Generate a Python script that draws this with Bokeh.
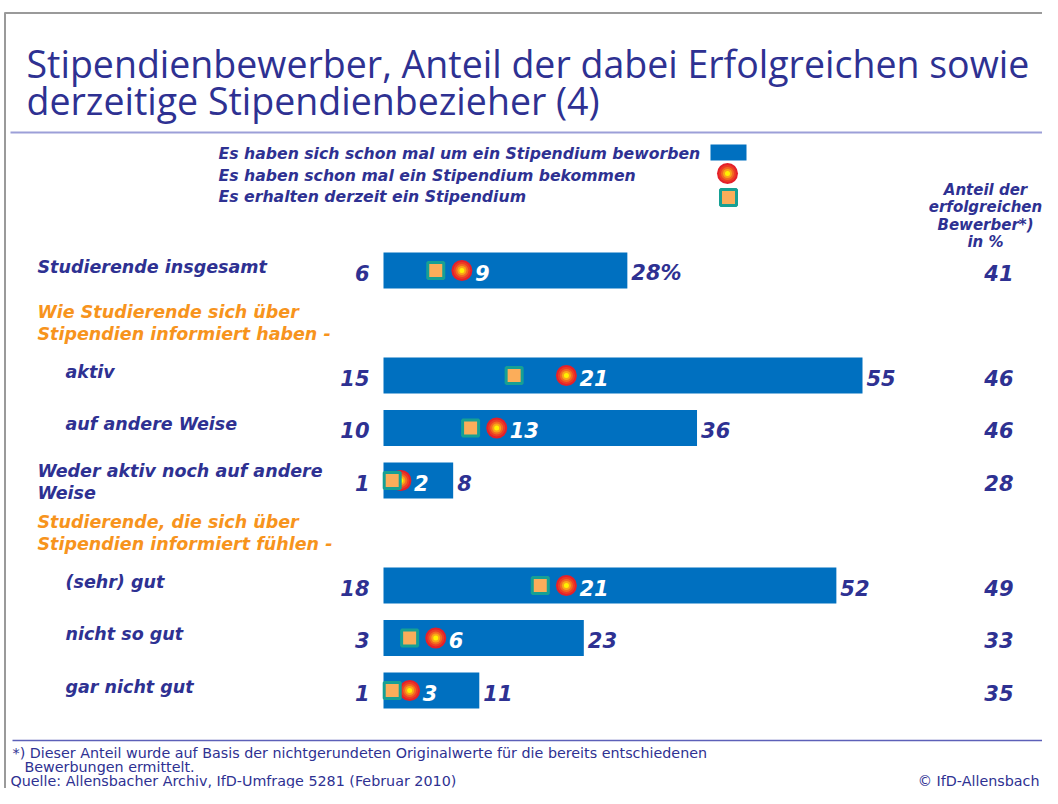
from bokeh.plotting import figure
from bokeh.models import Range1d
from bokeh.embed import file_html
from bokeh.resources import INLINE
from bokeh.core.properties import value

# ---------------- data ----------------
categories = ["Studierende insgesamt", "aktiv", "auf andere Weise",
              "Weder aktiv noch auf andere\nWeise", "(sehr) gut", "nicht so gut", "gar nicht gut"]
indent = [False, True, True, False, True, True, True]
rows = [0, 2, 3, 4, 6, 7, 8]
beworben = [28, 55, 36, 8, 52, 23, 11]      # Es haben sich schon mal um ein Stipendium beworben
bekommen = [9, 21, 13, 2, 21, 6, 3]         # Es haben schon mal ein Stipendium bekommen
erhalten = [6, 15, 10, 1, 18, 3, 1]         # Es erhalten derzeit ein Stipendium
anteil = [41, 46, 46, 28, 49, 33, 35]       # Anteil der erfolgreichen Bewerber in %
headings = ["Wie Studierende sich über\nStipendien informiert haben -",
            "Studierende, die sich über\nStipendien informiert fühlen -"]
heading_rows = [1, 5]
legend_labels = ["Es haben sich schon mal um ein Stipendium beworben",
                 "Es haben schon mal ein Stipendium bekommen",
                 "Es erhalten derzeit ein Stipendium"]

# ---------------- layout helpers ----------------
X0, SX = 383.0, 479.0 / 55.0
Y0, SY = 270.0, 52.5
def px(x): return (x - X0) / SX
def py(y): return (y - Y0) / SY

NAVY = "#2e3192"
BLUE = "#0070c0"
ORANGE = "#f7941d"
FONT = value("DejaVu Sans")
TFONT = value("Open Sans")

W, H = 1042, 788
p = figure(width=W, height=H, output_backend="svg", toolbar_location=None,
           x_range=Range1d(px(0), px(W)), y_range=Range1d(py(H), py(0)),
           x_axis_type=None, y_axis_type=None, min_border=0)
p.grid.visible = False
p.outline_line_color = None
p.background_fill_color = "white"
p.border_fill_color = "white"

# frame lines
p.line(x=[px(4), px(W)], y=[py(12.5), py(12.5)], line_color="#9a9a9a", line_width=2)
p.line(x=[px(4.5), px(4.5)], y=[py(12), py(H)], line_color="#9a9a9a", line_width=2)
p.line(x=[px(10), px(W)], y=[py(132), py(132)], line_color="#9c9fd8", line_width=2)
p.line(x=[px(12), px(W)], y=[py(740), py(740)], line_color="#5c60b8", line_width=1.5)

# title
p.text(x=[px(26)], y=[py(63)], text=["Stipendienbewerber, Anteil der dabei Erfolgreichen sowie"],
       text_font=TFONT, text_font_size="37.5px", text_color=NAVY, text_baseline="middle")
p.text(x=[px(26)], y=[py(100)], text=["derzeitige Stipendienbezieher (4)"],
       text_font=TFONT, text_font_size="37.5px", text_color=NAVY, text_baseline="middle")

# legend
for i, lab in enumerate(legend_labels):
    p.text(x=[px(218)], y=[py(153 + 21.5 * i)], text=[lab], text_font=FONT,
           text_font_size="15.7px", text_font_style="bold italic", text_color=NAVY,
           text_baseline="middle")
p.rect(x=[px(728)], y=[py(152)], width=36, height=16, width_units="screen",
       height_units="screen", fill_color=BLUE, line_color=None)
circ_sizes = [21, 17, 13, 9, 5]
circ_cols = ["#e4202a", "#ec3d25", "#f26a22", "#f9a51a", "#fff200"]
for s, c in zip(circ_sizes, circ_cols):
    p.scatter(x=[px(727)], y=[py(173)], size=s, marker="circle", fill_color=c, line_color=None)
p.scatter(x=[px(728)], y=[py(197)], size=16, marker="square", fill_color="#fbad5a",
          line_color="#16a094", line_width=3)

# right column header
for i, t in enumerate(["Anteil der", "erfolgreichen", "Bewerber*)", "in %"]):
    p.text(x=[px(985)], y=[py(189 + 17.5 * i)], text=[t], text_font=FONT,
           text_font_size="15px", text_font_style="bold italic", text_color=NAVY,
           text_align="center", text_baseline="middle")

# bars
p.hbar(y=rows, left=0, right=beworben, height=36 / SY, fill_color=BLUE, line_color=None)

# markers: bekommen (gradient circle), erhalten (square)
for s, c in zip(circ_sizes, circ_cols):
    p.scatter(x=bekommen, y=rows, size=s, marker="circle", fill_color=c, line_color=None)
p.scatter(x=erhalten, y=rows, size=16, marker="square", fill_color="#fbad5a",
          line_color="#16a094", line_width=3)

# value labels
end_labels = [f"{v}%" if i == 0 else str(v) for i, v in enumerate(beworben)]
p.text(x=beworben, y=rows, text=end_labels, x_offset=4, y_offset=2, text_font=FONT,
       text_font_size="21px", text_font_style="bold italic", text_color=NAVY,
       text_baseline="middle")
p.text(x=bekommen, y=rows, text=[str(v) for v in bekommen], x_offset=13, y_offset=2,
       text_font=FONT, text_font_size="21px", text_font_style="bold italic",
       text_color="white", text_baseline="middle")
p.text(x=[0] * len(rows), y=rows, text=[str(v) for v in erhalten], x_offset=-14, y_offset=2,
       text_font=FONT, text_font_size="21px", text_font_style="bold italic",
       text_color=NAVY, text_align="right", text_baseline="middle")
p.text(x=[px(1013)] * len(rows), y=rows, text=[str(v) for v in anteil], y_offset=2,
       text_font=FONT, text_font_size="21px", text_font_style="bold italic",
       text_color=NAVY, text_align="right", text_baseline="middle")

# category labels
cat_x = [px(65) if ind else px(37) for ind in indent]
for x, r, c in zip(cat_x, rows, categories):
    lines = c.split("\n")
    for j, ln in enumerate(lines):
        off = -4 if len(lines) == 1 else (-10 + 22 * j)
        p.text(x=[x], y=[r], y_offset=off, text=[ln], text_font=FONT, text_font_size="17.5px",
               text_font_style="bold italic", text_color=NAVY, text_baseline="middle")
for r, h in zip(heading_rows, headings):
    for j, ln in enumerate(h.split("\n")):
        p.text(x=[px(37)], y=[r], y_offset=-11 + 22 * j, text=[ln], text_font=FONT,
               text_font_size="17.5px", text_font_style="bold italic", text_color=ORANGE,
               text_baseline="middle")

# footnotes
FN = dict(text_font=FONT, text_font_size="14.3px", text_color=NAVY, text_baseline="middle")
p.text(x=[px(12)], y=[py(752)], text=["*) Dieser Anteil wurde auf Basis der nichtgerundeten Originalwerte für die bereits entschiedenen"], **FN)
p.text(x=[px(24)], y=[py(766)], text=["Bewerbungen ermittelt."], **FN)
p.text(x=[px(10)], y=[py(780)], text=["Quelle: Allensbacher Archiv, IfD-Umfrage 5281 (Februar 2010)"], **FN)
p.text(x=[px(1039)], y=[py(780)], text=["© IfD-Allensbach"], text_align="right", **FN)

open("out.html", "w").write(file_html(p, INLINE))
